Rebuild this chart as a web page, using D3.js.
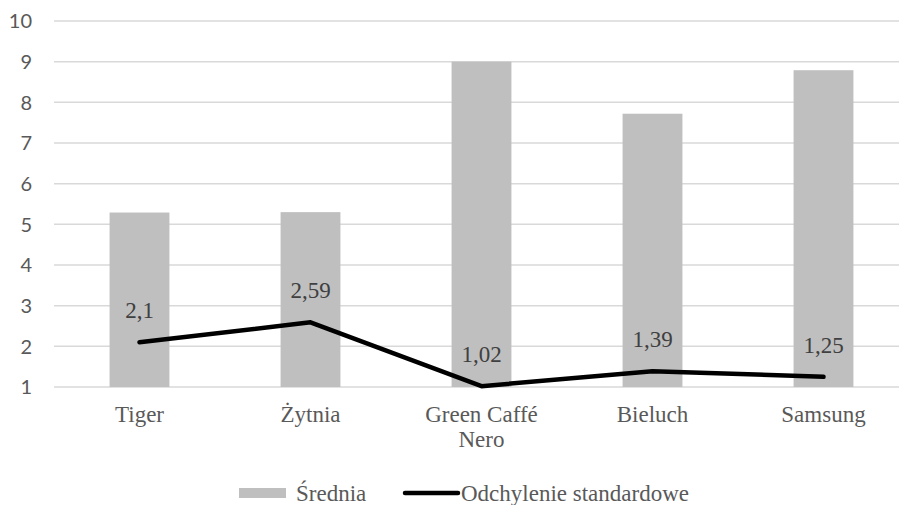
<!DOCTYPE html>
<html>
<head>
<meta charset="utf-8">
<script src="https://cdn.jsdelivr.net/npm/d3@7"></script>
<style>
  html, body { margin: 0; padding: 0; background: #fff; }
</style>
</head>
<body>
<svg id="chart" width="899" height="505"></svg>
<script>
// data
const categories = [["Tiger"], ["Żytnia"], ["Green Caffé", "Nero"], ["Bieluch"], ["Samsung"]];
const meanValues = [5.29, 5.30, 9.0, 7.72, 8.79];
const sdValues = [2.1, 2.59, 1.02, 1.39, 1.25];
const sdLabels = ["2,1", "2,59", "1,02", "1,39", "1,25"];
const yTicks = [1, 2, 3, 4, 5, 6, 7, 8, 9, 10];
const legendNames = ["Średnia", "Odchylenie standardowe"];

const svg = d3.select("#chart");

const serif = "Liberation Serif";
const sans = "Lato";

// plot area (right side runs past the window, like the original crop)
const x = d3.scaleBand()
    .domain(d3.range(categories.length))
    .range([54, 909])
    .paddingInner(0.65)
    .paddingOuter(0.325);

const y = d3.scaleLinear()
    .domain([1, 10])
    .range([387, 21]);

// gridlines
svg.append("g")
    .selectAll("line")
    .data(yTicks)
    .join("line")
    .attr("x1", 54)
    .attr("x2", 899)
    .attr("y1", d => y(d))
    .attr("y2", d => y(d))
    .attr("stroke", "#d9d9d9")
    .attr("stroke-width", 1.5);

// y axis labels
svg.append("g")
    .selectAll("text")
    .data(yTicks)
    .join("text")
    .attr("x", 32)
    .attr("y", d => y(d))
    .attr("dy", "0.36em")
    .attr("text-anchor", "end")
    .attr("fill", "#595959")
    .attr("font-family", sans)
    .attr("font-size", 20)
    .text(d => d);

// bars for the mean
svg.append("g")
    .selectAll("rect")
    .data(meanValues)
    .join("rect")
    .attr("x", (d, i) => x(i))
    .attr("width", x.bandwidth())
    .attr("y", d => y(d))
    .attr("height", d => y(1) - y(d))
    .attr("fill", "#bfbfbf");

// standard deviation line
const line = d3.line()
    .x((d, i) => x(i) + x.bandwidth() / 2)
    .y(d => y(d));

svg.append("path")
    .datum(sdValues)
    .attr("d", line)
    .attr("fill", "none")
    .attr("stroke", "#000")
    .attr("stroke-width", 4.5)
    .attr("stroke-linecap", "round")
    .attr("stroke-linejoin", "round");

// value labels above the line points
svg.append("g")
    .selectAll("text")
    .data(sdValues)
    .join("text")
    .attr("x", (d, i) => x(i) + x.bandwidth() / 2)
    .attr("y", d => y(d) - 24)
    .attr("text-anchor", "middle")
    .attr("fill", "#404040")
    .attr("font-family", serif)
    .attr("font-size", 23)
    .text((d, i) => sdLabels[i]);

// category labels
const catText = svg.append("g")
    .selectAll("text")
    .data(categories)
    .join("text")
    .attr("x", (d, i) => x(i) + x.bandwidth() / 2)
    .attr("y", 422)
    .attr("text-anchor", "middle")
    .attr("fill", "#595959")
    .attr("font-family", serif)
    .attr("font-size", 23);

catText.selectAll("tspan")
    .data(d => d)
    .join("tspan")
    .attr("x", function () { return d3.select(this.parentNode).attr("x"); })
    .attr("dy", (d, i) => i === 0 ? 0 : 25)
    .text(d => d);

// legend
const legend = svg.append("g").attr("transform", "translate(0,493)");

legend.append("rect")
    .attr("x", 239)
    .attr("y", -5)
    .attr("width", 47)
    .attr("height", 10)
    .attr("fill", "#bfbfbf");

legend.append("text")
    .attr("x", 296)
    .attr("y", 0)
    .attr("dy", "0.35em")
    .attr("fill", "#595959")
    .attr("font-family", serif)
    .attr("font-size", 23)
    .text(legendNames[0]);

legend.append("line")
    .attr("x1", 405)
    .attr("x2", 458)
    .attr("y1", 0)
    .attr("y2", 0)
    .attr("stroke", "#000")
    .attr("stroke-width", 4.5)
    .attr("stroke-linecap", "round");

legend.append("text")
    .attr("x", 461)
    .attr("y", 0)
    .attr("dy", "0.35em")
    .attr("fill", "#595959")
    .attr("font-family", serif)
    .attr("font-size", 23)
    .text(legendNames[1]);
</script>
</body>
</html>
